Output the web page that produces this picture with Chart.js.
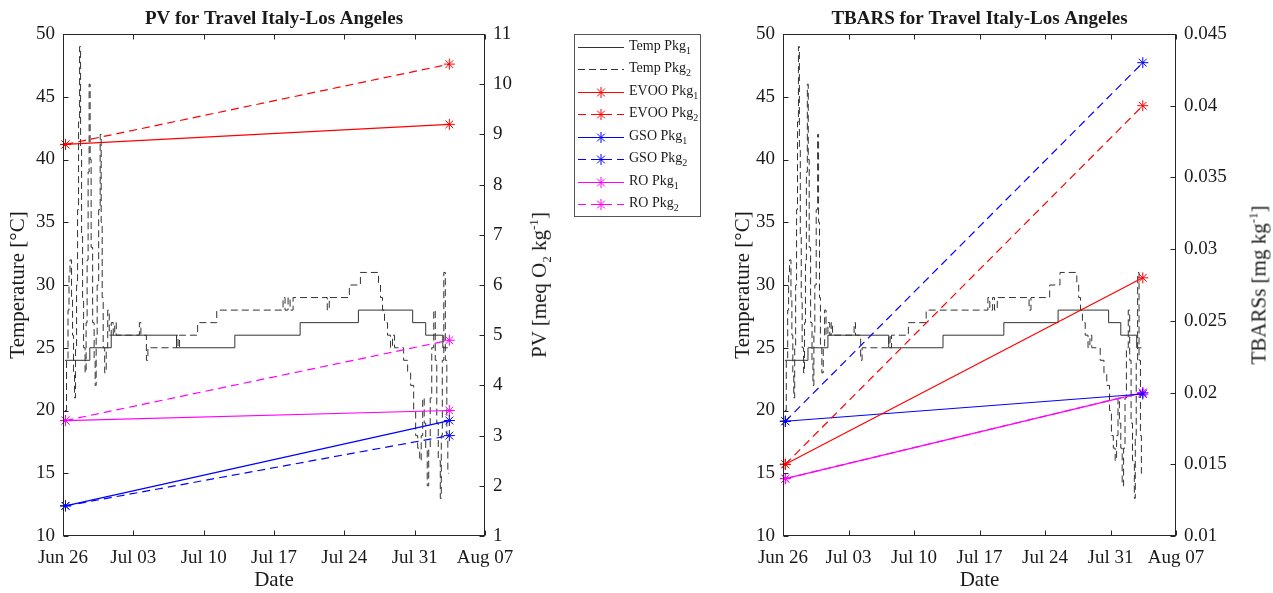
<!DOCTYPE html>
<html>
<head>
<meta charset="utf-8">
<script src="https://cdn.jsdelivr.net/npm/chart.js@4.4.0/dist/chart.umd.min.js"></script>
<style>
  html, body { margin: 0; padding: 0; background: #fff; }
  body { width: 1273px; height: 593px; position: relative; overflow: hidden;
         font-family: 'Liberation Serif', 'Times New Roman', serif; color: #1a1a1a; }
  .plot { position: absolute; top: 0; }
  #pvCanvas { left: 0; }
  #tbCanvas { left: 720px; }
  .ytitle { position: absolute; top: 285px; white-space: nowrap; font-size: 21px; line-height: 1;
            transform: translate(-50%, -50%) rotate(-90deg); }
  .ytitle sub, .ytitle sup { font-size: 13px; }
  #legend { position: absolute; left: 574px; top: 34px; width: 127px; height: 183px;
            border: 1px solid #555; box-sizing: border-box; padding-top: 0.5px; }
  .row { height: 22.5px; display: flex; align-items: center; font-size: 14px; white-space: nowrap; }
  .row canvas { margin-left: 3px; margin-right: 5px; }
  .row sub { font-size: 10px; }
</style>
</head>
<body>
<canvas id="pvCanvas" class="plot" width="560" height="593"></canvas>
<canvas id="tbCanvas" class="plot" width="553" height="593"></canvas>
<div class="ytitle" style="left:540px">PV [meq O<sub>2</sub> kg<sup>-1</sup>]</div>
<div class="ytitle" style="left:1258px">TBARSs [mg kg<sup>-1</sup>]</div>
<div id="legend"></div>
<script>
// x axis: days since Jun 26
const dayTicks = [0, 7, 14, 21, 28, 35, 42];
const dateLabels = ['Jun 26', 'Jul 03', 'Jul 10', 'Jul 17', 'Jul 24', 'Jul 31', 'Aug 07'];
const tempTicks = [10, 15, 20, 25, 30, 35, 40, 45, 50];
const pvTicks = [1, 2, 3, 4, 5, 6, 7, 8, 9, 10, 11];
const tbarsTicks = [0.01, 0.015, 0.02, 0.025, 0.03, 0.035, 0.04, 0.045];

// temperature logger, package 1 (stairs)
const tempPkg1Days = [0.2, 2.67, 4.8, 11.3, 17.1, 23.6, 29.4, 34.8, 36.1, 37.8, 38.3];
const tempPkg1 = [24, 25, 26, 25, 26, 27, 28, 27, 26, 25, 25];

// temperature logger, package 2 (stairs)
const tempPkg2Days = [0.2, 0.35, 0.5, 0.6, 0.7, 0.85, 0.95, 1.05, 1.15, 1.25, 1.35, 1.45, 1.55, 1.65, 1.75, 1.85, 1.95, 2.05,
  2.2, 2.3, 2.4, 2.5, 2.6, 2.7, 2.8, 2.95, 3.1, 3.2, 3.3, 3.4, 3.55, 3.7, 3.8, 3.9, 4.0, 4.15, 4.3, 4.45, 4.6, 4.8,
  5.0, 5.15, 5.3, 7.6, 7.75, 8.3, 8.45, 11.3, 11.45, 11.6, 13.4, 15.3, 21.9, 22.1, 22.4, 22.6, 22.9, 26.3, 26.5,
  28.5, 29.6, 31.4, 31.6, 31.8, 32.0, 32.3, 32.6, 32.8, 33.0, 33.9, 34.3, 34.6, 34.9, 35.1, 35.3, 35.5, 35.65,
  35.8, 35.95, 36.1, 36.25, 36.4, 36.55, 36.7, 36.9, 37.05, 37.2, 37.35, 37.55, 37.65, 37.75, 37.9, 38.05, 38.2,
  38.3, 38.4];
const tempPkg2 = [20, 24, 28, 31, 32, 29, 26, 23, 21, 25, 30, 36, 43, 49, 41, 34, 29, 25,
  23, 27, 32, 39, 46, 40, 33, 27, 24, 22, 26, 30, 36, 42, 35, 29, 25, 23, 25, 28, 26, 27,
  26, 27, 26, 27, 26, 24, 25, 26, 25, 26, 27, 28, 29, 28, 29, 28, 29, 28, 29,
  30, 31, 30, 29, 28, 27, 26, 25, 26, 25, 24, 23, 22, 20, 18, 17, 16, 18,
  21, 19, 17, 14, 17, 21, 25, 28, 24, 19, 16, 13, 18, 24, 31, 24, 18,
  15, 15];

// oil samples: departure and arrival
const sampleDays = [0.25, 38.45];
const pvEvoo1 = [8.8, 9.2];
const pvEvoo2 = [8.8, 10.4];
const pvGso1 = [1.6, 3.3];
const pvGso2 = [1.6, 3.0];
const pvRo1 = [3.3, 3.5];
const pvRo2 = [3.3, 4.9];
const tbEvoo1 = [0.015, 0.028];
const tbEvoo2 = [0.015, 0.040];
const tbGso1 = [0.018, 0.0199];
const tbGso2 = [0.018, 0.043];
const tbRo1 = [0.014, 0.020];
const tbRo2 = [0.014, 0.020];

const FONT = "'Liberation Serif', 'Times New Roman', serif";
const TXT = '#1a1a1a';
const RED = '#ff0000', BLUE = '#0000ff', MAG = '#ff00ff', TEMP = '#333333';

const pts = (xs, ys) => xs.map((x, i) => ({ x: x, y: ys[i] }));

function tempSets() {
  return [
    { label: 'Temp Pkg1', data: pts(tempPkg1Days, tempPkg1), yAxisID: 'y', stepped: true,
      borderColor: TEMP, borderWidth: 1, pointRadius: 0, order: 2 },
    { label: 'Temp Pkg2', data: pts(tempPkg2Days, tempPkg2), yAxisID: 'y', stepped: true,
      borderColor: TEMP, borderWidth: 1, borderDash: [7, 4], pointRadius: 0, order: 2 }
  ];
}

function oilSet(label, vals, color, dashed) {
  return {
    label: label, data: pts(sampleDays, vals), yAxisID: 'y1',
    borderColor: color, backgroundColor: 'rgba(0,0,0,0)', borderWidth: 1.2,
    borderDash: dashed ? [8, 5] : [],
    pointStyle: 'star', pointRadius: 5.5, pointBorderWidth: 1, pointBorderColor: color,
    pointBackgroundColor: 'rgba(0,0,0,0)', clip: false, order: 1
  };
}

// MATLAB-like box with inward ticks, placed with the chart's own scales
const matlabBox = {
  id: 'matlabBox',
  afterDraw(chart) {
    const { ctx, chartArea: a, scales } = chart;
    const L = Math.round(a.left) + 0.5, R = Math.round(a.right) - 0.5;
    const T = Math.round(a.top) + 0.5, B = Math.round(a.bottom) - 0.5;
    const len = 5;
    ctx.save();
    ctx.strokeStyle = '#262626';
    ctx.lineWidth = 1;
    ctx.setLineDash([]);
    ctx.strokeRect(L, T, R - L, B - T);
    ctx.beginPath();
    scales.x.ticks.forEach(t => {
      const px = Math.round(scales.x.getPixelForValue(t.value)) + 0.5;
      ctx.moveTo(px, B); ctx.lineTo(px, B - len);
      ctx.moveTo(px, T); ctx.lineTo(px, T + len);
    });
    scales.y.ticks.forEach(t => {
      const py = Math.round(scales.y.getPixelForValue(t.value)) + 0.5;
      ctx.moveTo(L, py); ctx.lineTo(L + len, py);
    });
    scales.y1.ticks.forEach(t => {
      const py = Math.round(scales.y1.getPixelForValue(t.value)) + 0.5;
      ctx.moveTo(R, py); ctx.lineTo(R - len, py);
    });
    ctx.stroke();
    ctx.restore();
  }
};

function makeChart(canvasId, title, datasets, rightTicks, leftW, rightW, leftTitlePad) {
  const tickFont = { family: FONT, size: 19 };
  const axisFont = { family: FONT, size: 21 };
  return new Chart(document.getElementById(canvasId), {
    type: 'line',
    data: { datasets: datasets },
    options: {
      responsive: false,
      animation: false,
      devicePixelRatio: 1,
      layout: { padding: 0 },
      plugins: {
        legend: { display: false },
        tooltip: { enabled: false },
        title: {
          display: true, text: title, color: TXT, fullSize: false,
          font: { family: FONT, size: 19, weight: 'bold' },
          padding: { top: 8, bottom: 3.2 }
        }
      },
      scales: {
        x: {
          type: 'linear', position: 'bottom', min: 0, max: 42,
          afterBuildTicks: s => { s.ticks = dayTicks.map(v => ({ value: v })); },
          afterFit: s => { s.height = 57; },
          grid: { display: false, drawTicks: false },
          border: { display: false },
          ticks: { callback: v => dateLabels[dayTicks.indexOf(v)], font: tickFont, color: TXT,
                   padding: 11, maxRotation: 0, autoSkip: false },
          title: { display: true, text: 'Date', font: axisFont, color: TXT, padding: { top: 0, bottom: 0 } }
        },
        y: {
          type: 'linear', position: 'left', min: 10, max: 50,
          afterBuildTicks: s => { s.ticks = tempTicks.map(v => ({ value: v })); },
          afterFit: s => { s.width = leftW; },
          grid: { display: false, drawTicks: false },
          border: { display: false },
          ticks: { callback: v => String(v), font: tickFont, color: TXT, padding: 8 },
          title: { display: true, text: 'Temperature [°C]', font: axisFont, color: TXT,
                   padding: { top: leftTitlePad, bottom: 0 } }
        },
        y1: {
          type: 'linear', position: 'right', min: rightTicks[0], max: rightTicks[rightTicks.length - 1],
          afterBuildTicks: s => { s.ticks = rightTicks.map(v => ({ value: v })); },
          afterFit: s => { s.width = rightW; },
          grid: { display: false, drawTicks: false },
          border: { display: false },
          ticks: { callback: v => String(v), font: tickFont, color: TXT, padding: 8 }
        }
      }
    },
    plugins: [matlabBox]
  });
}

const pvChart = makeChart('pvCanvas', 'PV for Travel Italy-Los Angeles', tempSets().concat([
  oilSet('EVOO Pkg1', pvEvoo1, RED, false),
  oilSet('EVOO Pkg2', pvEvoo2, RED, true),
  oilSet('GSO Pkg1', pvGso1, BLUE, false),
  oilSet('GSO Pkg2', pvGso2, BLUE, true),
  oilSet('RO Pkg1', pvRo1, MAG, false),
  oilSet('RO Pkg2', pvRo2, MAG, true)
]), pvTicks, 63, 75, 6);

const tbChart = makeChart('tbCanvas', 'TBARS for Travel Italy-Los Angeles', tempSets().concat([
  oilSet('EVOO Pkg1', tbEvoo1, RED, false),
  oilSet('EVOO Pkg2', tbEvoo2, RED, true),
  oilSet('GSO Pkg1', tbGso1, BLUE, false),
  oilSet('GSO Pkg2', tbGso2, BLUE, true),
  oilSet('RO Pkg1', tbRo1, MAG, false),
  oilSet('RO Pkg2', tbRo2, MAG, true)
]), tbarsTicks, 63, 97, 11);

// shared legend built from the PV chart's datasets
const legendBox = document.getElementById('legend');
pvChart.data.datasets.forEach(ds => {
  const row = document.createElement('div');
  row.className = 'row';
  const c = document.createElement('canvas');
  c.width = 46; c.height = 22;
  const ctx = c.getContext('2d');
  ctx.strokeStyle = ds.borderColor;
  ctx.lineWidth = 1;
  ctx.setLineDash(ds.borderDash || []);
  ctx.beginPath();
  ctx.moveTo(0, 11.5); ctx.lineTo(46, 11.5);
  ctx.stroke();
  if (ds.pointRadius > 0) {
    ctx.setLineDash([]);
    ctx.fillStyle = 'rgba(0,0,0,0)';
    Chart.helpers.drawPoint(ctx, { pointStyle: 'star', radius: ds.pointRadius, borderWidth: 1, rotation: 0 }, 23, 11.5);
  }
  const label = document.createElement('span');
  label.innerHTML = ds.label.replace(/(\d)$/, '<sub>$1</sub>');
  row.appendChild(c);
  row.appendChild(label);
  legendBox.appendChild(row);
});
</script>
</body>
</html>
